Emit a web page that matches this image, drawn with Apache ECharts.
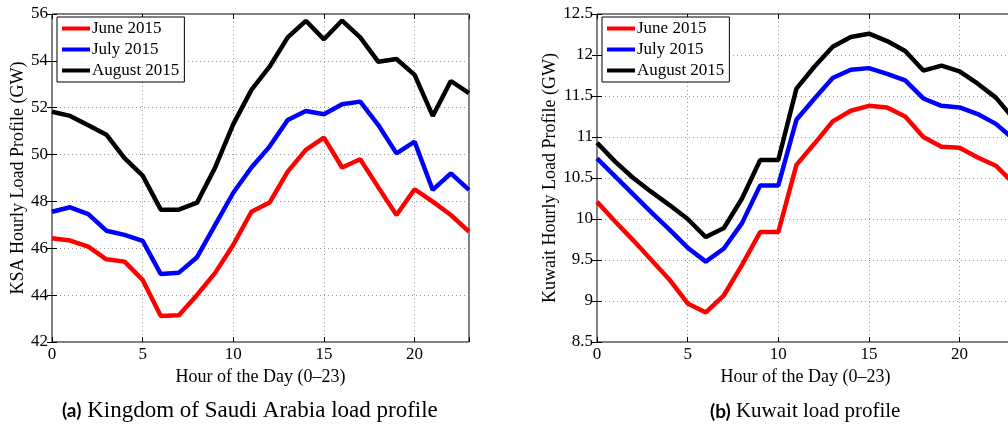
<!DOCTYPE html>
<html><head><meta charset="utf-8">
<script src="https://cdn.jsdelivr.net/npm/echarts@6/dist/echarts.min.js"></script>
<style>html,body{margin:0;padding:0;background:#fff}#c{width:1008px;height:432px}</style>
</head><body><div id="c"></div>
<script>
const hours = [0,1,2,3,4,5,6,7,8,9,10,11,12,13,14,15,16,17,18,19,20,21,22,23];
const seriesNames = ['June 2015','July 2015','August 2015'];
const ksaJune = [46.43,46.33,46.07,45.53,45.43,44.65,43.11,43.14,44.01,44.95,46.15,47.56,47.95,49.27,50.2,50.72,49.45,49.8,48.6,47.42,48.52,47.99,47.42,46.71];
const ksaJuly = [47.56,47.75,47.46,46.75,46.57,46.32,44.9,44.96,45.62,47.0,48.37,49.45,50.34,51.48,51.86,51.72,52.15,52.26,51.26,50.05,50.55,48.49,49.2,48.49];
const ksaAug  = [51.83,51.65,51.25,50.85,49.85,49.1,47.65,47.65,47.95,49.45,51.3,52.76,53.75,55.0,55.71,54.92,55.72,55.0,53.96,54.08,53.4,51.65,53.14,52.62];
const kwJune = [10.21,9.97,9.74,9.5,9.26,8.97,8.86,9.07,9.44,9.84,9.84,10.66,10.92,11.19,11.32,11.38,11.36,11.25,11.0,10.88,10.87,10.75,10.65,10.43];
const kwJuly = [10.74,10.52,10.3,10.08,9.87,9.65,9.48,9.64,9.95,10.41,10.41,11.21,11.47,11.72,11.82,11.84,11.77,11.69,11.47,11.38,11.36,11.28,11.16,10.97];
const kwAug  = [10.93,10.7,10.5,10.33,10.17,10.0,9.78,9.89,10.25,10.72,10.72,11.59,11.86,12.1,12.22,12.26,12.17,12.05,11.81,11.87,11.8,11.65,11.48,11.22];
const colors = ['#ff0000','#0000ff','#000000'];
const xLabel = 'Hour of the Day (0\u201323)';
const yLabels = ['KSA Hourly Load Profile (GW)','Kuwait Hourly Load Profile (GW)'];
const captions = [['(a)','Kingdom of Saudi Arabia load profile'],['(b)','Kuwait load profile']];

const serif = 'Liberation Serif';
const grids = [
  {left:52, top:14, width:417, height:328, show:true, borderColor:'#000', borderWidth:1, outerBoundsMode:'none'},
  {left:597, top:14, width:417, height:328, show:true, borderColor:'#000', borderWidth:1, outerBoundsMode:'none'}
];
function mkX(gi, pos, main){
  return {type:'value', gridIndex:gi, position:pos, min:0, max:23, interval:5,
    name: main ? xLabel : '', nameLocation:'middle', nameGap:20,
    nameTextStyle:{fontFamily:serif, fontSize:18, color:'#000'},
    axisLine:{show:false}, axisTick:{show:true, inside:true, length:5, lineStyle:{color:'#000'}},
    axisLabel:{show:main, fontFamily:serif, fontSize:17, color:'#000', margin:4,
      formatter:v=> (v%5===0 ? String(v) : '')},
    splitLine:{show:main, lineStyle:{type:[1,3], color:'#999'}}};
}
function mkY(gi, pos, main, mn, mx, iv, gap){
  return {type:'value', gridIndex:gi, position:pos, min:mn, max:mx, interval:iv,
    name: main ? yLabels[gi] : '', nameLocation:'middle', nameGap:gap,
    nameTextStyle:{fontFamily:serif, fontSize:18, color:'#000'},
    axisLine:{show:false}, axisTick:{show:true, inside:true, length:5, lineStyle:{color:'#000'}},
    axisLabel:{show:main, fontFamily:serif, fontSize:17, color:'#000', margin:4},
    splitLine:{show:main, lineStyle:{type:[1,3], color:'#999'}}};
}
const xAxes = [mkX(0,'bottom',true), mkX(1,'bottom',true), mkX(0,'top',false), mkX(1,'top',false)];
const yAxes = [mkY(0,'left',true,42,56,2,25), mkY(1,'left',true,8.5,12.5,0.5,38),
               mkY(0,'right',false,42,56,2,0), mkY(1,'right',false,8.5,12.5,0.5,0)];
const dataSets = [[ksaJune,ksaJuly,ksaAug],[kwJune,kwJuly,kwAug]];
const series = [];
dataSets.forEach((set,gi)=>{
  set.forEach((vals,si)=>{
    series.push({type:'line', name:seriesNames[si], xAxisIndex:gi, yAxisIndex:gi,
      data: hours.map((h,i)=>[h, vals[i]]), symbol:'none', smooth:false,
      lineStyle:{color:colors[si], width:4.5}, itemStyle:{color:colors[si]}, animation:false});
  });
});
function mkLegend(left){
  return {left:left, top:17, orient:'vertical', data:seriesNames, icon:'rect',
    itemWidth:28, itemHeight:4, itemGap:4, padding:[3,5,3,5],
    borderColor:'#000', borderWidth:1, backgroundColor:'#fff',
    textStyle:{fontFamily:serif, fontSize:17, color:'#000', padding:[0,0,0,-3]}};
}
const capSizes = [23, 21];
const graphic = captions.map((c,i)=>({type:'text', left: i===0 ? 62 : 710, top: i===0 ? 399 : 401,
  style:{text:'{b|'+c[0]+'} '+c[1], font:capSizes[i]+'px "Liberation Serif"', fill:'#000',
    rich:{b:{fontFamily:'Lato', fontWeight:'bold', fontSize:19, fill:'#000'}}}}));
const chart = echarts.init(document.getElementById('c'), null, {renderer:'canvas'});
chart.setOption({animation:false, grid:grids, xAxis:xAxes, yAxis:yAxes, series:series,
  legend:[mkLegend(57), mkLegend(602)], graphic:graphic});
</script></body></html>
